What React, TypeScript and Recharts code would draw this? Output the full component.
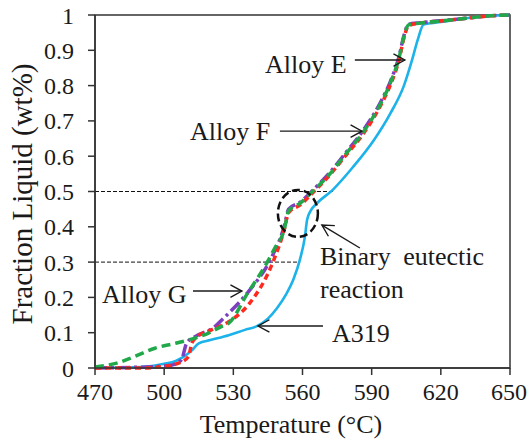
import React from "react";
import {
  LineChart,
  Line,
  XAxis,
  YAxis,
  ReferenceLine,
  ReferenceDot,
  ReferenceArea,
} from "recharts";

// A319 (solid blue)
const a319Temp = [470, 490, 500, 505, 508, 512, 515, 520, 528, 535, 540, 545, 549, 553, 556, 559, 561, 562, 563.5, 566, 573, 582, 591, 598, 604, 607.5, 610, 612.5, 620, 630, 640, 650];
const a319Frac = [0, 0.003, 0.012, 0.02, 0.03, 0.05, 0.07, 0.079, 0.093, 0.108, 0.118, 0.14, 0.17, 0.21, 0.25, 0.31, 0.37, 0.42, 0.445, 0.465, 0.504, 0.57, 0.646, 0.72, 0.8, 0.872, 0.93, 0.973, 0.98, 0.99, 0.997, 1];

// Alloy E (purple dash-dot)
const alloyETemp = [470, 496, 503, 507.5, 509.7, 513.4, 522, 525, 537, 546, 552, 554, 559, 565, 572, 579, 586, 594, 598, 602, 604, 606, 611, 620, 630, 640, 650];
const alloyEFrac = [0, 0.004, 0.008, 0.023, 0.07, 0.089, 0.117, 0.136, 0.22, 0.306, 0.4, 0.45, 0.47, 0.507, 0.555, 0.612, 0.67, 0.755, 0.81, 0.886, 0.942, 0.974, 0.978, 0.984, 0.99, 0.997, 1];

// Alloy F (red dashed)
const alloyFTemp = [470, 490, 499, 506, 510.5, 512, 513.5, 520.5, 528, 537, 547, 552, 554, 559, 565, 572, 579, 586, 594, 598, 602, 604, 606, 611, 620, 630, 640, 650];
const alloyFFrac = [0, 0, 0.004, 0.013, 0.032, 0.07, 0.084, 0.108, 0.131, 0.183, 0.297, 0.39, 0.44, 0.462, 0.5, 0.548, 0.604, 0.66, 0.745, 0.8, 0.876, 0.935, 0.97, 0.977, 0.983, 0.99, 0.997, 1];

// Alloy G (green dashed)
const alloyGTemp = [470, 479, 487, 496, 505, 513, 519, 525, 528, 536, 544.5, 548, 552, 554, 559, 565, 572, 579, 586, 594, 598, 602, 604, 606, 611, 620, 630, 640, 650];
const alloyGFrac = [0.003, 0.013, 0.032, 0.056, 0.07, 0.084, 0.098, 0.118, 0.127, 0.21, 0.297, 0.34, 0.39, 0.445, 0.467, 0.504, 0.551, 0.608, 0.665, 0.75, 0.806, 0.882, 0.939, 0.972, 0.977, 0.983, 0.99, 0.997, 1];

const xTicks = [470, 500, 530, 560, 590, 620, 650];
const yTicks = [0, 0.1, 0.2, 0.3, 0.4, 0.5, 0.6, 0.7, 0.8, 0.9, 1];

// dashed guide lines: [fraction, end temperature]
const guideLevels = [0.5, 0.3];
const guideEnds = [574, 559];

// eutectic marker (ellipse centre)
const eutecticTemp = 558;
const eutecticFrac = 0.438;

const noteTexts = ["Alloy E", "Alloy F", "Alloy G", "A319", "Binary eutectic", "reaction"];
const noteTemps = [543.7, 511.2, 473, 572.8, 567.6, 567.6];
const noteFracs = [0.836, 0.646, 0.184, 0.074, 0.292, 0.198];
const noteSpacing = [0, 0, 0, 0, 6, 0];

// arrows: tail -> head
const arrowTails: [number, number][] = [[582.7, 0.8725], [550.2, 0.671], [512.5, 0.218], [568.9, 0.119], [584.9, 0.34]];
const arrowHeads: [number, number][] = [[604.4, 0.8725], [585.8, 0.671], [533.7, 0.218], [540.7, 0.119], [568.4, 0.405]];

const FONT = "'Liberation Serif', 'Times New Roman', Times, serif";
const INK = "#1a1a1a";

const toRows = (ts: number[], fs: number[]) => ts.map((t, i) => ({ t, f: fs[i] }));

const series = [
  { name: "A319", data: toRows(a319Temp, a319Frac), color: "#1cb2ea", dash: undefined, width: 2.6 },
  { name: "Alloy E", data: toRows(alloyETemp, alloyEFrac), color: "#7b3fc0", dash: "12 4 3 4", width: 3.5 },
  { name: "Alloy F", data: toRows(alloyFTemp, alloyFFrac), color: "#ff2a1f", dash: "6 4", width: 3.5 },
  { name: "Alloy G", data: toRows(alloyGTemp, alloyGFrac), color: "#21a84a", dash: "9 5", width: 3.5 },
];

function Arrow(props: any) {
  const { x1, y1, x2, y2 } = props;
  const ang = Math.atan2(y2 - y1, x2 - x1);
  const len = 13;
  const spread = 0.5;
  const ax = x2 - len * Math.cos(ang - spread);
  const ay = y2 - len * Math.sin(ang - spread);
  const bx = x2 - len * Math.cos(ang + spread);
  const by = y2 - len * Math.sin(ang + spread);
  return (
    <g stroke={INK} strokeWidth={1.4} fill="none">
      <line x1={x1} y1={y1} x2={x2} y2={y2} />
      <polyline points={`${ax},${ay} ${x2},${y2} ${bx},${by}`} />
    </g>
  );
}

export default function App() {
  return (
    <div style={{ position: "fixed", left: 0, top: 0, width: 527, height: 441, background: "#fff", fontFamily: FONT }}>
      <LineChart width={527} height={441} margin={{ top: 15, right: 17, bottom: 0, left: 0 }} style={{ fontFamily: FONT }}>
        <XAxis
          dataKey="t"
          type="number"
          domain={[470, 650]}
          ticks={xTicks}
          allowDataOverflow
          height={73}
          tickSize={7}
          tickMargin={8}
          stroke="#333"
          strokeWidth={1.5}
          tick={{ style: { fontFamily: FONT }, fontSize: 24, fill: INK }}
          label={{
            content: () => (
              <text x={291} y={433} textAnchor="middle" style={{ fontFamily: FONT }} fontSize={26} fill={INK}>
                Temperature (°C)
              </text>
            ),
          }}
        />
        <YAxis
          type="number"
          domain={[0, 1]}
          ticks={yTicks}
          width={95}
          tickSize={7}
          tickMargin={14}
          stroke="#333"
          strokeWidth={1.5}
          tick={{ style: { fontFamily: FONT }, fontSize: 24, fill: INK }}
          label={{
            content: () => (
              <text
                transform="translate(32,194) rotate(-90)"
                textAnchor="middle"
                style={{ fontFamily: FONT }}
                fontSize={29}
                fill={INK}
              >
                Fraction Liquid (wt%)
              </text>
            ),
          }}
        />
        <ReferenceArea x1={470} x2={650} y1={0} y2={1} fill="none" stroke="#333" strokeWidth={1.5} />
        {guideLevels.map((lv, i) => (
          <ReferenceLine
            key={`g${i}`}
            segment={[{ x: 470, y: lv }, { x: guideEnds[i], y: lv }]}
            stroke="#111"
            strokeWidth={1}
            strokeDasharray="4 2"
          />
        ))}
        {series.map((s) => (
          <Line
            key={s.name}
            data={s.data}
            dataKey="f"
            type="monotone"
            stroke={s.color}
            strokeWidth={s.width}
            strokeDasharray={s.dash}
            dot={false}
            isAnimationActive={false}
          />
        ))}
        <ReferenceDot
          x={eutecticTemp}
          y={eutecticFrac}
          shape={(p: any) => (
            <ellipse cx={p.cx} cy={p.cy} rx={20} ry={23.5} fill="none" stroke="#111" strokeWidth={2.5} strokeDasharray="8 4" />
          )}
        />
        {arrowTails.map((tail, i) => (
          <ReferenceLine
            key={`a${i}`}
            segment={[{ x: tail[0], y: tail[1] }, { x: arrowHeads[i][0], y: arrowHeads[i][1] }]}
            shape={(p: any) => <Arrow {...p} />}
          />
        ))}
        {noteTexts.map((txt, i) => (
          <ReferenceDot
            key={`n${i}`}
            x={noteTemps[i]}
            y={noteFracs[i]}
            shape={(p: any) => (
              <text x={p.cx} y={p.cy} style={{ fontFamily: FONT, wordSpacing: noteSpacing[i] }} fontSize={26} fill={INK}>
                {txt}
              </text>
            )}
          />
        ))}
      </LineChart>
    </div>
  );
}
